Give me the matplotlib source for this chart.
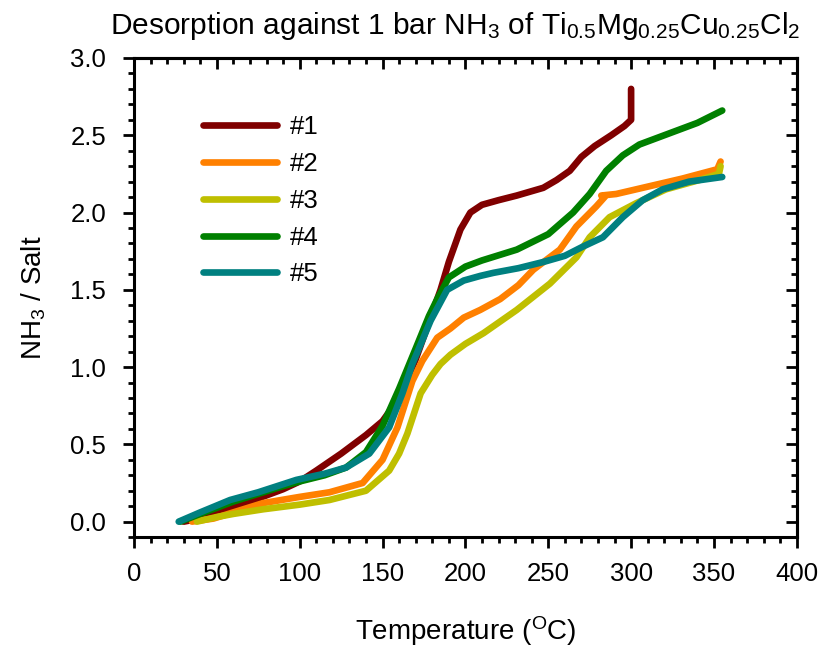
import matplotlib
matplotlib.use("Agg")
import matplotlib.pyplot as plt
from matplotlib.ticker import MultipleLocator, FormatStrFormatter

plt.rcParams['font.family'] = ['Liberation Sans', 'DejaVu Sans']
plt.rcParams['mathtext.default'] = 'regular'

# datos
t1 = [30, 40, 50, 60, 75, 90, 100, 110, 125, 140, 150, 160, 170, 180, 185, 190, 197, 203, 210, 220, 231, 247, 255, 263, 270, 278, 288, 296, 300, 300]
n1 = [0, 0.02, 0.05, 0.09, 0.15, 0.21, 0.26, 0.33, 0.44, 0.56, 0.65, 0.8, 1.05, 1.35, 1.5, 1.68, 1.89, 2.0, 2.05, 2.08, 2.11, 2.16, 2.21, 2.27, 2.36, 2.43, 2.5, 2.56, 2.6, 2.8]

t2 = [35, 48, 60, 78, 100, 118, 138, 150, 159, 168, 174, 183, 191, 199, 209, 221, 232, 241, 257, 267, 279, 284, 282, 291, 311, 331, 352, 354]
n2 = [0, 0.02, 0.06, 0.12, 0.16, 0.19, 0.25, 0.40, 0.61, 0.91, 1.04, 1.19, 1.25, 1.32, 1.37, 1.44, 1.53, 1.63, 1.76, 1.91, 2.04, 2.10, 2.11, 2.12, 2.17, 2.22, 2.28, 2.33]

t3 = [38, 50, 60, 78, 100, 118, 140, 154, 160, 165, 173, 180, 185, 191, 200, 211, 231, 251, 267, 275, 287, 303, 321, 341, 353, 354]
n3 = [0, 0.03, 0.05, 0.08, 0.11, 0.14, 0.2, 0.33, 0.44, 0.57, 0.83, 0.95, 1.02, 1.08, 1.15, 1.22, 1.37, 1.54, 1.71, 1.84, 1.97, 2.06, 2.15, 2.21, 2.25, 2.3]

t4 = [28, 40, 50, 60, 75, 90, 100, 115, 128, 140, 150, 160, 170, 178, 183, 190, 200, 210, 231, 250, 265, 275, 285, 295, 305, 320, 340, 355]
n4 = [0, 0.05, 0.09, 0.13, 0.18, 0.23, 0.26, 0.3, 0.35, 0.45, 0.62, 0.86, 1.12, 1.33, 1.44, 1.58, 1.65, 1.69, 1.76, 1.86, 2.0, 2.12, 2.27, 2.37, 2.44, 2.5, 2.58, 2.66]

t5 = [27, 40, 58, 75, 98, 115, 128, 142, 154, 162, 168, 179, 189, 199, 209, 217, 232, 247, 260, 271, 283, 295, 307, 319, 335, 355]
n5 = [0, 0.06, 0.14, 0.19, 0.27, 0.31, 0.35, 0.44, 0.61, 0.83, 1.02, 1.30, 1.50, 1.56, 1.59, 1.61, 1.64, 1.68, 1.72, 1.78, 1.84, 1.97, 2.08, 2.15, 2.2, 2.23]

etiquetas = ["#1", "#2", "#3", "#4", "#5"]
colores = ["#800000", "#FF8000", "#BFBF00", "#008000", "#008080"]
series = [(t1, n1), (t2, n2), (t3, n3), (t4, n4), (t5, n5)]

fig = plt.figure(figsize=(8.24, 6.59), dpi=100)
ax = fig.add_axes([0.1626, 0.185, 0.8044, 0.727])

for (t, n), lab, col in zip(series, etiquetas, colores):
    ax.plot(t, n, color=col, lw=4.8, label=lab, solid_capstyle='round', solid_joinstyle='round')

ax.set_xlim(0, 400)
ax.set_ylim(-0.1, 3.0)
ax.xaxis.set_major_locator(MultipleLocator(50))
ax.xaxis.set_minor_locator(MultipleLocator(10))
ax.yaxis.set_major_locator(MultipleLocator(0.5))
ax.yaxis.set_minor_locator(MultipleLocator(0.1))
ax.yaxis.set_major_formatter(FormatStrFormatter('%.1f'))
ax.tick_params(which='both', direction='out', width=2, labelsize=18.5)
ax.tick_params(which='major', length=8)
ax.tick_params(which='minor', length=4.5)
ax.tick_params(axis='x', which='major', pad=10)
ax.tick_params(axis='y', which='major', pad=12)
for s in ax.spines.values():
    s.set_linewidth(2.2)

# ticks hacia adentro arriba y a la derecha
top = ax.secondary_xaxis('top')
top.xaxis.set_major_locator(MultipleLocator(50))
top.xaxis.set_minor_locator(MultipleLocator(10))
top.tick_params(which='both', direction='in', width=2, labeltop=False)
top.tick_params(which='major', length=8)
top.tick_params(which='minor', length=4.5)
top.spines['top'].set_linewidth(2.2)
der = ax.secondary_yaxis('right')
der.yaxis.set_major_locator(MultipleLocator(0.5))
der.yaxis.set_minor_locator(MultipleLocator(0.1))
der.tick_params(which='both', direction='in', width=2, labelright=False)
der.tick_params(which='major', length=8)
der.tick_params(which='minor', length=4.5)
der.spines['right'].set_linewidth(2.2)

ax.set_xlabel("Temperature ($^{O}$C)", fontsize=20, labelpad=20)
ax.set_ylabel("NH$_3$ / Salt", fontsize=20, labelpad=16)
ax.set_title("Desorption against 1 bar NH$_3$ of Ti$_{0.5}$Mg$_{0.25}$Cu$_{0.25}$Cl$_2$",
             fontsize=21.5, pad=17, x=0.485)

ax.legend(loc='upper left', bbox_to_anchor=(0.104, 0.881), frameon=False, fontsize=18.5,
          handlelength=2.9, labelspacing=0.5, handletextpad=0.5, borderpad=0, borderaxespad=0)

fig.savefig("out.png", dpi=100)
